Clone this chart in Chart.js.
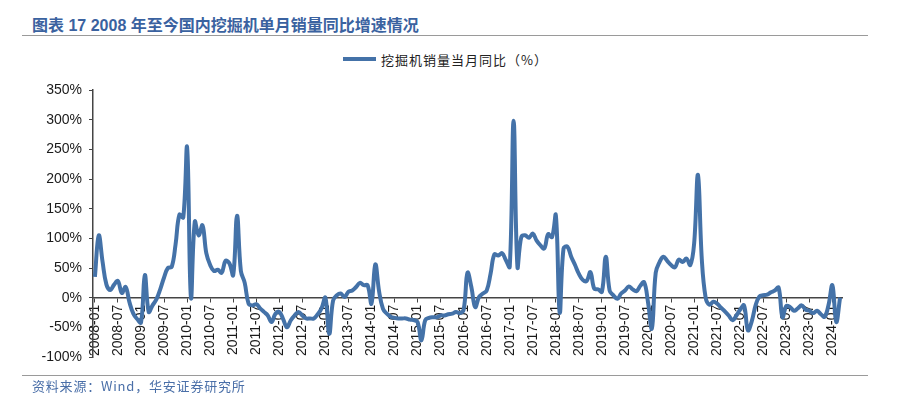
<!DOCTYPE html>
<html>
<head>
<meta charset="utf-8">
<script src="https://cdn.jsdelivr.net/npm/chart.js@4.4.1/dist/chart.umd.min.js"></script>
<style>
  body { margin: 0; background: #fff; }
  #page { position: relative; width: 902px; height: 396px; overflow: hidden; }
  #title { position: absolute; left: 32px; top: 12px; font: bold 16px "Liberation Sans", "Noto Sans CJK SC", sans-serif; color: #3a62a0; white-space: nowrap; }
  .rule { position: absolute; left: 22px; width: 846px; height: 0; border-top: 1.5px solid #9a9a9a; }
  #legend { position: absolute; left: 343px; top: 50px; font: 13px "Noto Sans CJK SC", sans-serif; color: #222; letter-spacing: 1px; white-space: nowrap; }
  #legend i { display: inline-block; width: 33px; height: 4px; background: #4472a8; vertical-align: middle; margin-right: 5px; position: relative; top: -2px; }
  #source { position: absolute; left: 32px; top: 376px; font: 13px "Noto Sans CJK SC", sans-serif; color: #4a6fa8; letter-spacing: 0.8px; white-space: nowrap; }
  #wrap { position: absolute; left: 0; top: 0; width: 902px; height: 396px; }
</style>
</head>
<body>
<div id="page">
  <div id="title">图表 17 2008 年至今国内挖掘机单月销量同比增速情况</div>
  <div class="rule" style="top:35px"></div>
  <div id="legend"><i></i>挖掘机销量当月同比（%）</div>
  <div id="wrap"><canvas id="excavatorChart"></canvas></div>
  <div class="rule" style="top:375px"></div>
  <div id="source">资料来源：Wind，华安证券研究所</div>
</div>
<script>
//	Monthly YoY growth of domestic excavator sales (%), one array per year
var y2008 = [35, 105, 60, 22, 13, 22, 28, 8, 18, -8, -27, -36];
var y2009 = [-42, 38, -24, -13, -3, 14, 34, 50, 52, 90, 140, 135];
var y2010 = [253, 0, 128, 105, 122, 75, 55, 45, 47, 42, 62, 58];
var y2011 = [38, 138, 45, 25, -10, -13, -11, -18, -24, -30, -41, -27];
var y2012 = [-24, -36, -50, -38, -30, -24, -30, -35, -35, -35, -28, -18];
var y2013 = [0, -61, -5, 4, 7, 1, 10, 12, 18, 25, 21, 21];
var y2014 = [-10, 56, 10, -19, -27, -32, -34, -35, -35, -35, -37, -38];
var y2015 = [-41, -72, -38, -34, -33, -33, -30, -30, -28, -27, -24, -26];
var y2016 = [-20, 42, 18, -16, 1, 7, 12, 40, 73, 71, 75, 63];
var y2017 = [52, 298, 52, 102, 105, 101, 108, 96, 88, 83, 107, 102];
var y2018 = [139, -25, 83, 86, 69, 55, 40, 30, 28, 43, 15, 14];
var y2019 = [10, 69, 12, 4, -2, 7, 12, 19, 14, 11, 20, 26];
var y2020 = [-8, -52, 42, 60, 69, 62, 55, 51, 64, 60, 66, 55];
var y2021 = [91, 207, 65, 0, -12, -7, -10, -17, -23, -30, -38, -30];
var y2022 = [-20, -13, -55, -40, -13, 2, 4, 5, 9, 12, 17, -33];
var y2023 = [-14, -16, -22, -18, -13, -20, -22, -26, -22, -28, -32, -12];
var y2024 = [21, -41, 0];

var yearSeries = [y2008, y2009, y2010, y2011, y2012, y2013, y2014, y2015,
	y2016, y2017, y2018, y2019, y2020, y2021, y2022, y2023, y2024];
var firstYear = 2008;

//	y axis ticks
var yMin = -100;
var yMax = 350;
var yStep = 50;

var lineColor = '#4472a8';
var axisColor = '#444';

//	Build month labels (yyyy-mm) and the flat series
var monthLabels = [];
var yoyValues = [];
for (let k = 0; k < yearSeries.length; k++) {
	for (let m = 0; m < yearSeries[k].length; m++) {
		monthLabels.push((firstYear + k) + '-' + (m < 9 ? '0' : '') + (m + 1));
		yoyValues.push(yearSeries[k][m]);
	}
}

var ctx = document.getElementById('excavatorChart');
var chart = new Chart(ctx, {
	type: 'line',
	data: {
		labels: monthLabels,
		datasets: [{
			label: '挖掘机销量当月同比（%）',
			data: yoyValues,
			borderColor: lineColor,
			borderWidth: 4,
			pointRadius: 0,
			tension: 0.4,
			fill: false
		}]
	},
	options: {
		responsive: true,
		maintainAspectRatio: false,
		animation: false,
		layout: {
			padding: { top: 90, right: 60, bottom: 39, left: 0 }
		},
		plugins: {
			legend: { display: false },
			tooltip: { enabled: false }
		},
		scales: {
			x: {
				position: { y: 0 },
				offset: true,
				afterFit: function (scale) { scale.height = 0; },
				grid: { drawOnChartArea: false, tickLength: 4, color: axisColor, offset: false },
				border: { color: axisColor, width: 1.5 },
				ticks: {
					autoSkip: false,
					minRotation: 90,
					maxRotation: 90,
					padding: 3,
					color: '#1a1a1a',
					font: { family: '"Liberation Sans", Arial, sans-serif', size: 14 },
					callback: function (value, index) {
						//	one label every 6 months
						return index % 6 === 0 ? this.getLabelForValue(value) : null;
					}
				}
			},
			y: {
				min: yMin,
				max: yMax,
				afterFit: function (scale) { scale.width = 93; },
				grid: { drawOnChartArea: false, tickLength: 4, color: axisColor },
				border: { color: axisColor, width: 1.5 },
				ticks: {
					stepSize: yStep,
					padding: 7,
					color: '#1a1a1a',
					font: { family: '"Liberation Sans", Arial, sans-serif', size: 14 },
					callback: function (value) { return value + '%'; }
				}
			}
		}
	}
});
</script>
</body>
</html>
